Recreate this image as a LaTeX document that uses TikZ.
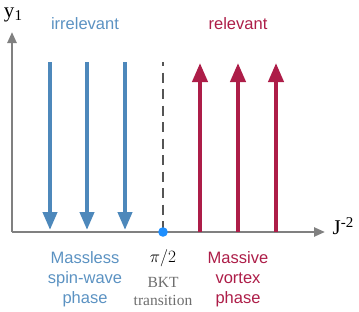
\documentclass[tikz,border=0pt]{standalone}
\usepackage{fontspec}
\setmainfont{Liberation Sans}
\newfontfamily\rmlbl{Liberation Serif}
\usepackage{tikz}
\usetikzlibrary{arrows.meta,positioning}
\definecolor{cIrr} {HTML}{4D88BB}
\definecolor{cIrrT}{HTML}{5B92C2}
\definecolor{cRel} {HTML}{AD1D48}
\definecolor{cAxis}{HTML}{808080}
\definecolor{cDash}{HTML}{555555}
\definecolor{cDot} {HTML}{1E8FFF}
\definecolor{cBkt} {HTML}{6E6E6E}
\tikzset{
  axis/.style  ={draw=cAxis,line width=2.4pt,-{Triangle[length=11pt,width=9pt]}},
  irr/.style   ={draw=cIrr,line width=4pt,-{Triangle[length=18pt,width=14pt]}},
  rel/.style   ={draw=cRel,line width=4pt,-{Triangle[length=19pt,width=15pt]}},
  crit/.style  ={draw=cDash,line width=2pt,dash pattern=on 10pt off 6.5pt,dash phase=6pt},
  head/.style  ={font=\fontsize{16.5}{20}\selectfont,inner sep=0pt},
  phase/.style ={head,align=center},
  ax/.style    ={font=\rmlbl\fontsize{21}{21}\selectfont,inner sep=0pt},
  bkt/.style   ={font=\rmlbl\fontsize{15.5}{18}\selectfont,text=cBkt,align=center,inner sep=0pt},
}

\begin{document}
\begin{tikzpicture}[x=1pt,y=-1pt]
\useasboundingbox (0,0) rectangle (359,311);

% axes
\coordinate (O) at (12,232);
\coordinate (ytip) at (12,32);
\coordinate (xtip) at (325,232);
\draw[axis] (O) -- (ytip);
\draw[axis] (O) -- (xtip);
\node[ax] (ylab) at (13,15) {y\raisebox{-0.35ex}{\fontsize{15}{15}\selectfont 1}};
\node[ax] (xlab) at (343,226) {J\raisebox{0.8ex}{\fontsize{15}{15}\selectfont -2}};

% flow arrows
\foreach \x/\n in {50/b1, 87/b2, 125/b3}{
  \coordinate (\n t) at (\x,62);
  \coordinate (\n b) at (\x,230);
  \draw[irr] (\n t) -- (\n b);
}
\foreach \x/\n in {200/r1, 238/r2, 276/r3}{
  \coordinate (\n b) at (\x,232);
  \coordinate (\n t) at (\x,63);
  \draw[rel] (\n b) -- (\n t);
}

% critical point
\coordinate (ctop) at (163,62);
\coordinate (crit) at (163,232);
\draw[crit] (ctop) -- (crit);
\fill[cDot] (crit) circle (4.8);

% labels
\node[head,text=cIrrT] (irrl) at (85,24) {irrelevant};
\node[head,text=cRel]  (rell) at (238,24) {relevant};
\node[phase,text=cIrrT] (msw) at (85,279) {Massless\\spin-wave\\phase};
\node[phase,text=cRel]  (mvx) at (238,279) {Massive\\vortex\\phase};
\node[inner sep=0pt,font=\fontsize{17}{17}\selectfont] (pi2) at (163,258) {$\pi/2$};
\node[bkt] (bktl) at (163,291) {BKT\\transition};
\end{tikzpicture}
\end{document}
